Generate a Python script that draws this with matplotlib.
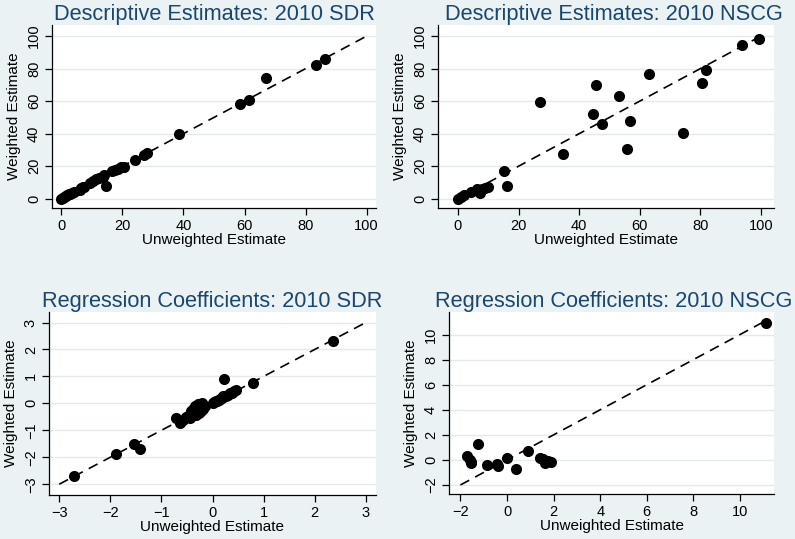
import numpy as np
import matplotlib.pyplot as plt

plt.rcParams['font.family'] = ['Liberation Sans', 'DejaVu Sans']

# --- data ---
# Descriptive Estimates: 2010 SDR
sdr_desc_x = [0, 0.5, 1, 1.5, 2, 2.5, 3, 3.5, 4, 6, 6.5, 7, 7.5, 9.5, 10.5, 11.5, 12.5,
              13.5, 14, 14.5, 16.5, 17.5, 18.5, 19.5, 20.5, 24, 27, 28, 38.5, 58.5, 61.5,
              67, 83.5, 86.5]
sdr_desc_y = [0, 0.6, 1, 1.6, 2.2, 2.6, 3.2, 3.6, 4.2, 5.5, 6.8, 7.2, 7.3, 9.8, 11, 12, 12.8,
              13.5, 14.3, 7.8, 17.3, 17.8, 18.5, 19.3, 19.8, 24, 26.8, 28, 39.7, 58.2, 60.4,
              74, 82.2, 86.2]

# Descriptive Estimates: 2010 NSCG
nscg_desc_x = [0, 1, 2, 4.4, 6.4, 7.2, 7.9, 9, 10, 15.2, 16.3, 27, 34.7, 44.4, 45.6, 47.4,
               53.3, 55.7, 56.8, 63, 74.4, 80.4, 81.8, 93.7, 99.4]
nscg_desc_y = [0, 1.2, 2, 4.3, 6.1, 3.7, 5.7, 6.8, 7.2, 17.2, 8, 59.6, 27.3, 52, 69.7, 46.1,
               63.1, 30.3, 48, 76.6, 40.4, 71.1, 78.9, 94.5, 98.2]

# Regression Coefficients: 2010 SDR
sdr_reg_x = [-2.72, -1.88, -1.53, -1.42, -0.72, -0.64, -0.58, -0.52, -0.48, -0.45, -0.42,
             -0.40, -0.38, -0.36, -0.34, -0.32, -0.30, -0.28, -0.26, -0.24, -0.22, -0.20,
             -0.18, -0.15, 0.0, 0.03, 0.06, 0.09, 0.12, 0.15, 0.18, 0.21, 0.23, 0.26, 0.30,
             0.34, 0.38, 0.42, 0.46, 0.80, 2.36]
sdr_reg_y = [-2.71, -1.88, -1.50, -1.70, -0.53, -0.72, -0.60, -0.52, -0.48, -0.55, -0.30,
             -0.42, -0.20, -0.35, -0.08, -0.45, -0.25, -0.02, -0.35, -0.12, -0.28, 0.02,
             -0.22, -0.10, 0.0, 0.04, 0.07, 0.09, 0.14, 0.16, 0.20, 0.27, 0.92, 0.28, 0.32,
             0.38, 0.40, 0.45, 0.50, 0.74, 2.33]

# Regression Coefficients: 2010 NSCG
nscg_reg_x = [-1.71, -1.60, -1.53, -1.55, -1.24, -0.88, -0.45, -0.38, 0.0, 0.38, 0.88,
              1.41, 1.55, 1.65, 1.77, 1.88, 11.1]
nscg_reg_y = [0.33, 0.0, -0.27, -0.2, 1.24, -0.41, -0.35, -0.46, 0.13, -0.75, 0.71,
              0.18, 0.05, -0.27, -0.1, -0.19, 10.93]

titles = ["Descriptive Estimates: 2010 SDR", "Descriptive Estimates: 2010 NSCG",
          "Regression Coefficients: 2010 SDR", "Regression Coefficients: 2010 NSCG"]
diag_ends = [[0, 100], [0, 100], [-3, 3], [-2, 11]]
xticks = [[0, 20, 40, 60, 80, 100], [0, 20, 40, 60, 80, 100],
          [-3, -2, -1, 0, 1, 2, 3], [-2, 0, 2, 4, 6, 8, 10]]
yticks = [[0, 20, 40, 60, 80, 100], [0, 20, 40, 60, 80, 100],
          [-3, -2, -1, 0, 1, 2, 3], [-2, 0, 2, 4, 6, 8, 10]]

W, H = 795, 539
bg = '#EAF2F3'
navy = '#1A476F'

fig = plt.figure(figsize=(W / 100, H / 100), dpi=100, facecolor=bg)

# axes boxes in pixels: left, top, right, bottom
boxes = [(52, 25, 376, 208), (438, 25, 774, 208), (49, 312, 376, 495), (449, 312, 774, 494)]
xlims = [(-3.05, 103.05), (-6.6, 104.3), (-3.2, 3.2), (-2.49, 11.46)]
ylims = [(-5.7, 106.8), (-5.7, 106.8), (-3.4, 3.39), (-2.72, 11.8)]
title_x = [0.5, 0.524, 0.5, 0.508]

data = [(sdr_desc_x, sdr_desc_y), (nscg_desc_x, nscg_desc_y),
        (sdr_reg_x, sdr_reg_y), (nscg_reg_x, nscg_reg_y)]

for i in range(4):
    l, t, r, b = boxes[i]
    ax = fig.add_axes([l / W, 1 - b / H, (r - l) / W, (b - t) / H])
    ax.set_facecolor('white')
    ax.set_axisbelow(True)
    ax.grid(axis='y', color='#E3EAEC', linewidth=1)
    ax.plot(diag_ends[i], diag_ends[i], color='black', linestyle=(0, (6, 4)), linewidth=1.2)
    ax.scatter(data[i][0], data[i][1], s=64, color='black', zorder=3, linewidths=0)
    ax.set_xlim(*xlims[i])
    ax.set_ylim(*ylims[i])
    ax.set_xticks(xticks[i])
    ax.set_yticks(yticks[i])
    ax.tick_params(labelsize=10.5, length=5, width=0.9, pad=3)
    for lab in ax.get_yticklabels():
        lab.set_rotation(90)
        lab.set_va('center')
    for s in ['top', 'right']:
        ax.spines[s].set_visible(False)
    for s in ['left', 'bottom']:
        ax.spines[s].set_linewidth(0.9)
    ax.set_xlabel("Unweighted Estimate", fontsize=11, labelpad=0)
    ax.set_ylabel("Weighted Estimate", fontsize=11, labelpad=4)
    ax.set_title(titles[i], fontsize=15.7, color=navy, x=title_x[i], pad=3)

fig.savefig('out.png', dpi=100, facecolor=bg)
